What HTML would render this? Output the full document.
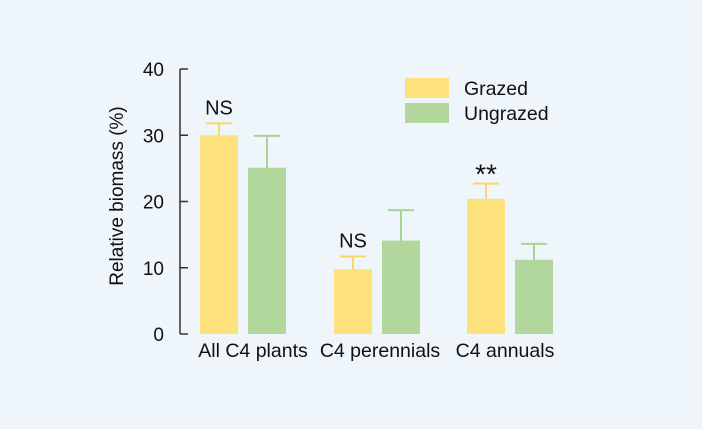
<!DOCTYPE html>
<html><head><meta charset="utf-8"><style>
html,body{margin:0;padding:0;background:#eef5fb;}
svg{display:block;font-family:"Liberation Sans",Arial,sans-serif;}
</style></head><body>
<svg id="chart" width="702" height="429">
<rect width="702" height="429" fill="#eef5fb"/>
</svg>
<script>
const categories = ["All C4 plants","C4 perennials","C4 annuals"];
const grazed = [30, 9.8, 20.4];
const grazedErr = [1.8, 1.9, 2.3];
const ungrazed = [25.1, 14.1, 11.2];
const ungrazedErr = [4.8, 4.6, 2.4];
const sigLabels = ["NS","NS","**"];
const yTicks = [0,10,20,30,40];

const svg = document.getElementById('chart');
const NS = 'http://www.w3.org/2000/svg';
function y(v){ return 334 - v*6.625; }
const groupX = [200, 334, 467];
const bw = 38, gap = 10;
function mk(tag, attrs){ const e=document.createElementNS(NS,tag); for(const k in attrs) e.setAttribute(k,attrs[k]); svg.appendChild(e); return e; }

const axis = mk('line',{x1:180,y1:69,x2:180,y2:334,stroke:'#333','stroke-width':1.5});


yTicks.forEach(t=>{
  const tk = mk('line',{x1:180,y1:y(t),x2:188,y2:y(t),stroke:'#333','stroke-width':1.5});
  
  
  const tl = mk('text',{x:164,y:y(t)+7,'text-anchor':'end','font-size':19,fill:'#111'});
  tl.textContent = t;
  
  
});
const yt = mk('text',{x:0,y:0,'text-anchor':'middle','font-size':19,fill:'#111',transform:'translate(123,196) rotate(-90)'});
yt.textContent = 'Relative biomass (%)';



function bar(x, v, err, fill, stroke, name){
  const cx = x + bw/2;
  const el = mk('line',{x1:cx,y1:y(v),x2:cx,y2:y(v+err),stroke:stroke,'stroke-width':2});
  
  
  const cap = mk('line',{x1:cx-13,y1:y(v+err),x2:cx+13,y2:y(v+err),stroke:stroke,'stroke-width':2});
  
  
  const r = mk('rect',{x:x,y:y(v),width:bw,height:334-y(v),fill:fill});
  
  
}
categories.forEach((c,i)=>{
  const gx = groupX[i];
  bar(gx, grazed[i], grazedErr[i], '#fde27c', '#f7d766', 'bar-grazed-'+i);
  bar(gx+bw+gap, ungrazed[i], ungrazedErr[i], '#b1d79c', '#a8d493', 'bar-ungrazed-'+i);
  const star = sigLabels[i]==='**';
  const s = mk('text',{x:gx+bw/2,y:y(grazed[i]+grazedErr[i])-(star?0:9),'text-anchor':'middle','font-size':star?28:20,fill:'#111'});
  s.textContent = sigLabels[i];
  
  
  const shift = i===0?10:(i===1?3:-5);
  const cl = mk('text',{x:gx+bw+gap/2+shift,y:357,'text-anchor':'middle','font-size':19.5,fill:'#111'});
  cl.textContent = c;
  
  
});
[['Grazed','#fde27c',78],['Ungrazed','#b1d79c',103]].forEach(([t,c,yy])=>{
  const r = mk('rect',{x:405,y:yy,width:44,height:20,fill:c});
  
  
  const tx = mk('text',{x:464,y:yy+17,'font-size':19.5,fill:'#111'});
  tx.textContent = t;
  
  
});
</script>
</body></html>
